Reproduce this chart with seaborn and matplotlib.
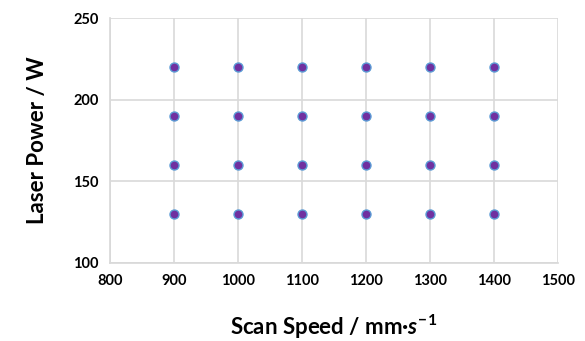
import matplotlib
matplotlib.use("Agg")
import matplotlib.pyplot as plt
import seaborn as sns
import pandas as pd

# Grid of process parameters
scan_speeds = [900, 1000, 1100, 1200, 1300, 1400]
laser_powers = [130, 160, 190, 220]

df = pd.DataFrame(
    [(s, p) for s in scan_speeds for p in laser_powers],
    columns=["speed", "power"],
)

sns.set_theme(style="white")
plt.rcParams["font.family"] = ["Lato", "DejaVu Sans"]
plt.rcParams["mathtext.fontset"] = "custom"
plt.rcParams["mathtext.it"] = "Lato:italic:bold"
plt.rcParams["mathtext.rm"] = "Lato:bold"

fig, ax = plt.subplots(figsize=(5.85, 3.41), dpi=100)
fig.subplots_adjust(left=0.188, right=0.954, bottom=0.229, top=0.947)

sns.scatterplot(data=df, x="speed", y="power", ax=ax, s=42,
                color="#7030A0", edgecolor="#5B9BD5", linewidth=1.0, zorder=3)

ax.set_xlim(800, 1500)
ax.set_ylim(100, 250)
ax.set_xticks(range(800, 1501, 100))
ax.set_yticks(range(100, 251, 50))
ax.grid(True, color="#D9D9D9", linewidth=1.2)
for sp in ax.spines.values():
    sp.set_visible(False)
ax.spines["left"].set_visible(True)
ax.spines["bottom"].set_visible(True)
ax.spines["left"].set_color("#D9D9D9")
ax.spines["bottom"].set_color("#D9D9D9")
ax.tick_params(length=0, labelsize=10.5, pad=8, labelcolor="black")
for lab in ax.get_xticklabels() + ax.get_yticklabels():
    lab.set_fontweight("bold")

ax.set_xlabel(r"Scan Speed / mm·$\mathit{s}^{-1}$", fontsize=16, fontweight="bold",
              labelpad=18, color="black")
ax.set_ylabel("Laser Power / W", fontsize=16, fontweight="bold", labelpad=18, color="black")

fig.savefig("out.png", dpi=100)
